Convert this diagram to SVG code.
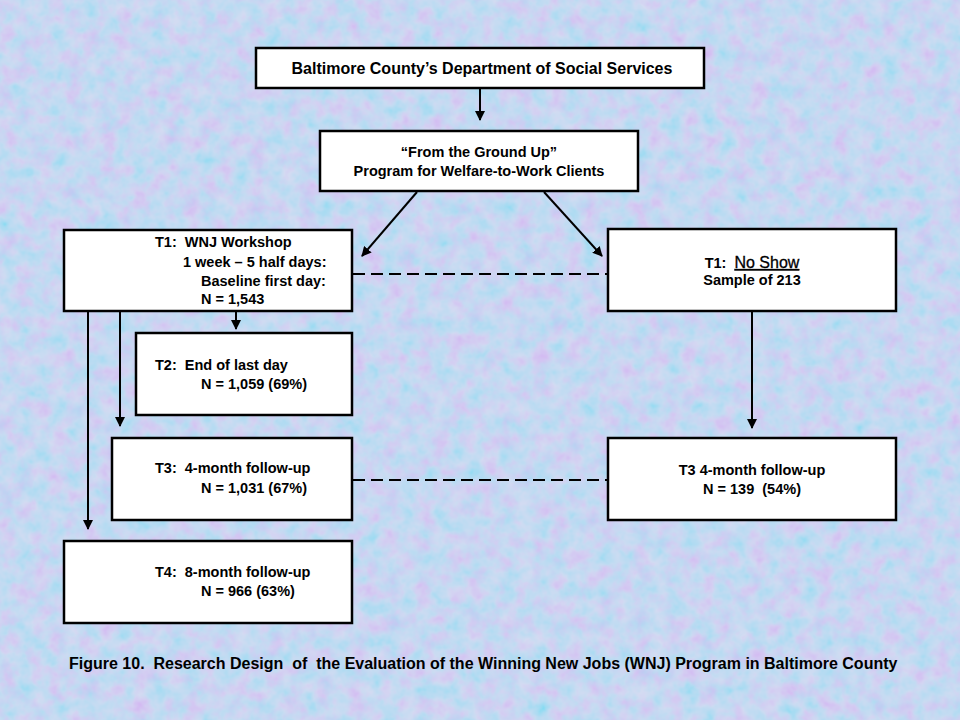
<svg xmlns="http://www.w3.org/2000/svg" width="960" height="720" viewBox="0 0 960 720">
<defs>
<filter id="tex" x="0" y="0" width="100%" height="100%">
<feTurbulence type="fractalNoise" baseFrequency="0.06" numOctaves="3" seed="7" result="n"/>
<feColorMatrix in="n" type="matrix" values="1.2 -0.6 0 0 0.45  -0.4 1.0 0 0 0.62  0 0 0 0 0.94  0 0 0 0 1"/>
</filter>
<marker id="ah" viewBox="0 0 10 10" refX="9" refY="5" markerWidth="5" markerHeight="5" orient="auto" markerUnits="strokeWidth">
<path d="M0,0 L10,5 L0,10 z" fill="#000"/>
</marker>
<style>
.box{fill:#fff;stroke:#000;stroke-width:2.5}
.t{font-family:"Liberation Sans",Arial,sans-serif;font-weight:bold;font-size:14.5px;fill:#000;white-space:pre}
.c{text-anchor:middle}
.ln{stroke:#000;stroke-width:2;fill:none;marker-end:url(#ah)}
.dash{stroke:#000;stroke-width:2;fill:none;stroke-dasharray:12,6}
</style>
</defs>
<rect width="960" height="720" fill="#b6c4ef"/>
<rect width="960" height="720" filter="url(#tex)" opacity="0.4"/>

<g id="connectors">
<line class="ln" x1="480" y1="88" x2="480" y2="120"/>
<line class="ln" x1="417" y1="192" x2="362" y2="256"/>
<line class="ln" x1="544" y1="192" x2="602" y2="256"/>
<line class="ln" x1="236" y1="312" x2="236" y2="329"/>
<line class="ln" x1="120" y1="312" x2="120" y2="426"/>
<line class="ln" x1="88" y1="312" x2="88" y2="529"/>
<line class="ln" x1="752" y1="312" x2="752" y2="428"/>
<line class="dash" x1="353" y1="274" x2="607" y2="274"/>
<line class="dash" x1="353" y1="480" x2="607" y2="480"/>
</g>

<g id="dss">
<rect class="box" x="256" y="48" width="448" height="40"/>
<text class="t c" x="482" y="74" style="font-size:16px">Baltimore County’s Department of Social Services</text>
</g>

<g id="program">
<rect class="box" x="320" y="131" width="318" height="60"/>
<text class="t c" x="479" y="157">“From the Ground Up”</text>
<text class="t c" x="479" y="176">Program for Welfare-to-Work Clients</text>
</g>

<g id="t1-workshop">
<rect class="box" x="64" y="230" width="288" height="81"/>
<text class="t" x="155" y="247">T1:  WNJ Workshop</text>
<text class="t" x="183" y="267">1 week – 5 half days:</text>
<text class="t" x="201" y="286">Baseline first day:</text>
<text class="t" x="201" y="304">N = 1,543</text>
</g>

<g id="t1-noshow">
<rect class="box" x="608" y="229" width="288" height="82"/>
<text class="t c" x="752" y="268">T1:  <tspan style="font-size:16px;font-weight:normal;text-decoration:underline;stroke:#000;stroke-width:0.3">No Show</tspan></text>
<text class="t c" x="752" y="285">Sample of 213</text>
</g>

<g id="t2">
<rect class="box" x="136" y="333" width="216" height="82"/>
<text class="t" x="155" y="370">T2:  End of last day</text>
<text class="t" x="201" y="389">N = 1,059 (69%)</text>
</g>

<g id="t3-left">
<rect class="box" x="112" y="438" width="240" height="82"/>
<text class="t" x="155" y="473">T3:  4-month follow-up</text>
<text class="t" x="201" y="493">N = 1,031 (67%)</text>
</g>

<g id="t4">
<rect class="box" x="64" y="541" width="288" height="82"/>
<text class="t" x="155" y="577">T4:  8-month follow-up</text>
<text class="t" x="201" y="596">N = 966 (63%)</text>
</g>

<g id="t3-right">
<rect class="box" x="608" y="438" width="288" height="82"/>
<text class="t c" x="752" y="475">T3 4-month follow-up</text>
<text class="t c" x="752" y="494">N = 139  (54%)</text>
</g>

<text class="t" x="69" y="669" style="font-size:16px">Figure 10.  Research Design  of  the Evaluation of the Winning New Jobs (WNJ) Program in Baltimore County</text>
</svg>
